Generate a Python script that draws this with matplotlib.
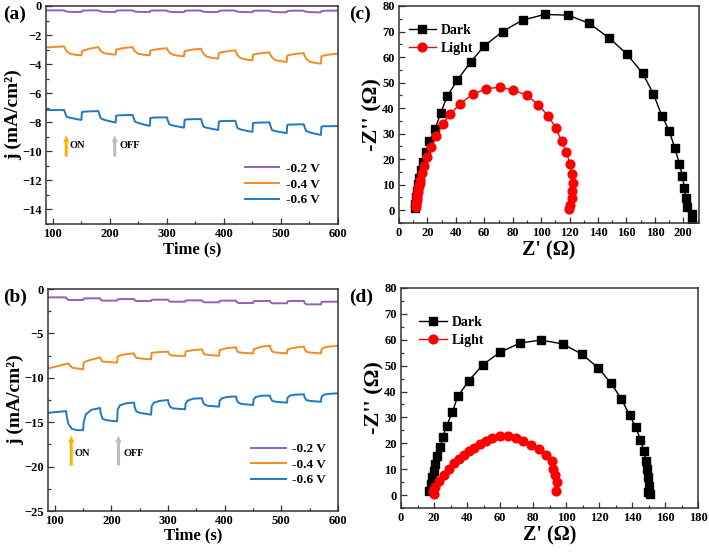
import matplotlib
matplotlib.use("Agg")
import matplotlib.pyplot as plt
from matplotlib.ticker import MultipleLocator

plt.rcParams['font.family'] = ['Liberation Serif', 'DejaVu Serif']
plt.rcParams['font.weight'] = 'bold'
plt.rcParams['axes.labelweight'] = 'bold'

# ---------------- panel (a): chopped current, sample 1 ----------------
t_a = [88,
       120, 121, 124, 130, 140, 150, 151, 155, 165,
       180, 181, 184, 190, 200, 210, 211, 215, 225,
       240, 241, 244, 250, 260, 270, 271, 275, 285,
       300, 301, 304, 310, 320, 330, 331, 335, 345,
       360, 361, 364, 370, 380, 390, 391, 395, 405,
       420, 421, 424, 430, 440, 450, 451, 455, 465,
       480, 481, 484, 490, 500, 510, 511, 515, 525,
       540, 541, 544, 550, 560, 570, 571, 575, 585,
       600]
a_02 = [-0.30,
        -0.30, -0.34, -0.38, -0.40, -0.41, -0.41, -0.33, -0.31, -0.30,
        -0.30, -0.34, -0.38, -0.40, -0.41, -0.41, -0.33, -0.31, -0.30,
        -0.30, -0.34, -0.38, -0.40, -0.41, -0.42, -0.33, -0.31, -0.31,
        -0.31, -0.35, -0.39, -0.41, -0.42, -0.42, -0.34, -0.32, -0.31,
        -0.31, -0.35, -0.39, -0.41, -0.42, -0.42, -0.34, -0.32, -0.31,
        -0.31, -0.35, -0.39, -0.41, -0.42, -0.43, -0.34, -0.32, -0.32,
        -0.32, -0.36, -0.40, -0.42, -0.43, -0.43, -0.35, -0.33, -0.32,
        -0.32, -0.36, -0.40, -0.42, -0.43, -0.44, -0.35, -0.33, -0.32,
        -0.32]
a_04 = [-2.85,
        -2.78, -2.90, -3.09, -3.28, -3.36, -3.40, -3.12, -3.05, -2.93,
        -2.83, -2.93, -3.09, -3.25, -3.31, -3.35, -3.01, -2.96, -2.89,
        -2.83, -2.94, -3.12, -3.29, -3.36, -3.40, -3.08, -3.03, -2.96,
        -2.90, -3.01, -3.18, -3.35, -3.42, -3.46, -3.12, -3.07, -3.00,
        -2.94, -3.08, -3.28, -3.48, -3.57, -3.62, -3.24, -3.19, -3.12,
        -3.05, -3.19, -3.40, -3.60, -3.69, -3.74, -3.35, -3.31, -3.25,
        -3.19, -3.32, -3.52, -3.72, -3.80, -3.85, -3.42, -3.37, -3.30,
        -3.24, -3.39, -3.61, -3.82, -3.92, -3.97, -3.46, -3.41, -3.34,
        -3.28]
a_06 = [-7.16,
        -7.16, -7.30, -7.61, -7.69, -7.77, -7.84, -7.30, -7.27, -7.25,
        -7.23, -7.38, -7.73, -7.83, -7.93, -8.02, -7.55, -7.52, -7.51,
        -7.50, -7.64, -7.95, -8.05, -8.16, -8.25, -7.71, -7.68, -7.67,
        -7.66, -7.80, -8.14, -8.22, -8.30, -8.37, -7.83, -7.80, -7.79,
        -7.78, -7.94, -8.30, -8.38, -8.46, -8.53, -7.95, -7.92, -7.91,
        -7.90, -8.05, -8.41, -8.50, -8.59, -8.66, -8.06, -8.03, -8.02,
        -8.01, -8.17, -8.53, -8.61, -8.68, -8.75, -8.19, -8.16, -8.15,
        -8.14, -8.28, -8.60, -8.69, -8.79, -8.87, -8.30, -8.27, -8.27,
        -8.26]

# ---------------- panel (b): chopped current, sample 2 ----------------
t_b = t_a
b_02 = [-0.94,
        -0.94, -1.10, -1.24, -1.24, -1.24, -1.24, -1.08, -1.05, -1.05,
        -1.05, -1.20, -1.31, -1.31, -1.31, -1.31, -1.16, -1.13, -1.13,
        -1.13, -1.26, -1.35, -1.35, -1.35, -1.35, -1.23, -1.20, -1.20,
        -1.20, -1.34, -1.43, -1.43, -1.43, -1.43, -1.31, -1.28, -1.28,
        -1.28, -1.40, -1.50, -1.50, -1.50, -1.50, -1.34, -1.31, -1.31,
        -1.31, -1.46, -1.58, -1.58, -1.58, -1.58, -1.38, -1.35, -1.35,
        -1.35, -1.50, -1.61, -1.61, -1.61, -1.61, -1.38, -1.35, -1.35,
        -1.35, -1.56, -1.73, -1.73, -1.73, -1.73, -1.46, -1.43, -1.43,
        -1.43]
b_04 = [-8.95,
        -8.45, -8.43, -8.40, -8.85, -8.95, -9.05, -8.30, -8.15, -7.95,
        -7.70, -7.90, -8.15, -8.20, -8.25, -8.30, -7.60, -7.50, -7.35,
        -7.25, -7.50, -7.75, -7.82, -7.88, -7.92, -7.20, -7.15, -7.10,
        -7.06, -7.25, -7.45, -7.50, -7.53, -7.55, -7.06, -6.98, -6.88,
        -6.80, -7.05, -7.35, -7.42, -7.47, -7.51, -6.90, -6.80, -6.65,
        -6.57, -6.85, -7.10, -7.18, -7.22, -7.25, -6.82, -6.70, -6.50,
        -6.38, -6.70, -7.05, -7.15, -7.20, -7.25, -6.82, -6.72, -6.60,
        -6.49, -6.75, -7.05, -7.15, -7.20, -7.25, -6.78, -6.60, -6.48,
        -6.40]
b_06 = [-13.95,
        -13.75, -14.30, -15.20, -15.75, -15.90, -15.90, -15.00, -14.10, -13.60,
        -13.40, -14.00, -14.60, -14.75, -14.85, -14.90, -13.60, -13.10, -12.88,
        -12.80, -13.30, -13.80, -13.95, -14.05, -14.15, -13.20, -12.80, -12.60,
        -12.50, -12.90, -13.30, -13.45, -13.50, -13.55, -12.90, -12.55, -12.35,
        -12.30, -12.65, -13.00, -13.15, -13.20, -13.25, -12.60, -12.30, -12.15,
        -12.10, -12.45, -12.80, -12.95, -13.00, -13.06, -12.45, -12.15, -12.02,
        -12.00, -12.30, -12.60, -12.70, -12.75, -12.80, -12.25, -12.00, -11.90,
        -11.86, -12.20, -12.50, -12.60, -12.65, -12.70, -12.15, -11.90, -11.80,
        -11.75]

# ---------------- panel (c): Nyquist, sample 1 ----------------
c_dark_x = [11.1, 11.3, 11.8, 12.5, 13.1, 14.0, 15.3, 16.9, 18.8, 21.4, 25.5, 29.2,
            34.1, 41.1, 50.3, 59.9, 72.8, 86.9, 102.6, 119.0, 133.8, 147.7, 160.1,
            171.4, 178.9, 184.8, 190.1, 193.9, 197.2, 199.3, 200.7, 201.8, 202.5,
            206.1, 206.3]
c_dark_y = [1.0, 2.5, 5.1, 7.7, 10.3, 12.7, 15.7, 19.0, 22.7, 27.1, 32.0, 37.9,
            44.9, 51.0, 58.0, 64.3, 70.0, 74.5, 76.7, 76.4, 73.2, 67.5, 61.3,
            53.6, 45.6, 37.1, 31.0, 24.5, 18.3, 13.3, 8.9, 4.6, 1.3,
            -1.3, -4.7]
c_light_x = [11.8, 12.0, 12.2, 12.5, 12.7, 13.0, 13.4, 13.7, 14.1, 14.6, 15.1, 16.2,
             17.9, 20.0, 22.8, 26.1, 30.6, 36.2, 43.2, 51.7, 61.5, 70.9, 80.3, 89.7,
             97.9, 104.9, 110.3, 114.3, 117.8, 120.2, 121.4, 122.1, 121.6, 121.5,
             120.5, 119.6]
c_light_y = [1.2, 2.0, 2.9, 3.9, 4.9, 6.0, 7.1, 8.3, 9.5, 10.8, 12.0, 14.7,
             17.5, 20.9, 24.7, 28.9, 33.6, 37.8, 41.8, 45.4, 47.6, 48.2, 47.1, 45.1,
             41.4, 36.9, 32.3, 27.1, 22.7, 18.3, 14.2, 10.5, 7.5, 4.9,
             2.0, 0.4]

# ---------------- panel (d): Nyquist, sample 2 ----------------
d_dark_x = [16.8, 18.0, 18.8, 19.9, 20.9, 22.1, 23.7, 25.3, 27.7, 31.2, 34.4, 41.1,
            49.7, 59.8, 72.0, 84.7, 97.9, 109.5, 119.6, 127.3, 133.6, 138.5, 142.3,
            145.1, 147.2, 148.4, 149.2, 149.6, 150.0, 149.6, 151.0]
d_dark_y = [1.4, 4.2, 6.8, 9.4, 12.0, 15.0, 18.4, 22.3, 26.8, 32.2, 38.1, 44.2,
            50.4, 55.1, 58.7, 59.9, 58.4, 54.5, 49.1, 43.2, 37.1, 30.9, 26.2,
            21.4, 17.0, 13.3, 10.1, 6.8, 3.6, 1.3, 0.6]
d_light_x = [19.2, 19.9, 20.9, 23.3, 25.9, 28.9, 32.0, 35.0, 38.1, 41.1, 44.2, 47.6,
             51.3, 55.3, 60.0, 64.9, 69.5, 74.2, 79.0, 83.7, 88.0, 91.4, 92.0, 93.1,
             94.5, 93.8]
d_light_y = [1.5, 0.4, 3.0, 5.6, 7.9, 10.1, 12.3, 14.0, 15.5, 16.9, 18.2, 19.7,
             21.0, 22.0, 22.7, 22.7, 21.9, 20.9, 19.4, 17.8, 15.5, 13.0, 10.1, 7.6,
             5.1, 1.5]

volt_labels = ['-0.2 V', '-0.4 V', '-0.6 V']
eis_labels = ['Dark', 'Light']
c_purple = '#8d62b8'
c_orange = '#f58a22'
c_blue = '#1f78c4'

W, H = 709, 555
fig = plt.figure(figsize=(W / 100, H / 100), dpi=100)


def ax_px(l, t, r, b):
    return fig.add_axes([l / W, 1 - b / H, (r - l) / W, (b - t) / H])


ax_a = ax_px(46, 6, 338, 224)
ax_b = ax_px(48, 289, 338, 511)
ax_c = ax_px(399, 6, 699, 223)
ax_d = ax_px(401, 288, 698, 508)

TICK_FS = 9


def style(ax):
    for s in ax.spines.values():
        s.set_linewidth(1.1)
        s.set_color('#333333')
    ax.tick_params(which='both', direction='in', top=False, right=False,
                   labelsize=TICK_FS, width=0.9, color='#333333', pad=3)
    ax.tick_params(which='major', length=4)
    ax.tick_params(which='minor', length=2.5)
    for lab in ax.get_xticklabels() + ax.get_yticklabels():
        lab.set_fontweight('bold')


ARROW = 'simple,head_length=0.5,head_width=0.45,tail_width=0.22'

# ---- (a)
for y, col, lab in zip([a_02, a_04, a_06], [c_purple, c_orange, c_blue], volt_labels):
    ax_a.plot(t_a, y, color=col, lw=1.4, label=lab)
ax_a.set_xlim(88, 600)
ax_a.set_ylim(-15, 0)
ax_a.xaxis.set_major_locator(MultipleLocator(100))
ax_a.xaxis.set_minor_locator(MultipleLocator(50))
ax_a.yaxis.set_major_locator(MultipleLocator(2))
ax_a.yaxis.set_minor_locator(MultipleLocator(1))
ax_a.set_xlabel('Time (s)', fontsize=12, fontweight='bold', labelpad=1)
ax_a.set_ylabel('j (mA/cm²)', fontsize=14, fontweight='bold', labelpad=0)
ax_a.legend(loc='upper left', bbox_to_anchor=(0.64, 0.335), frameon=False,
            prop={'family': 'Liberation Serif', 'weight': 'bold', 'size': 9.5},
            handlelength=2.6, labelspacing=0.25, handletextpad=0.5)
style(ax_a)
ax_a.annotate('', xy=(123.5, -8.7), xytext=(123.5, -10.55),
              arrowprops=dict(arrowstyle=ARROW, color='#ffb300', lw=0))
ax_a.annotate('', xy=(208.5, -8.7), xytext=(208.5, -10.55),
              arrowprops=dict(arrowstyle=ARROW, color='#bdbdbd', lw=0))
ax_a.text(130, -9.6, 'ON', fontsize=7.5, fontweight='bold', va='center')
ax_a.text(217, -9.6, 'OFF', fontsize=7.5, fontweight='bold', va='center')

# ---- (b)
for y, col, lab in zip([b_02, b_04, b_06], [c_purple, c_orange, c_blue], volt_labels):
    ax_b.plot(t_b, y, color=col, lw=1.4, label=lab)
ax_b.set_xlim(88, 600)
ax_b.set_ylim(-25, 0)
ax_b.xaxis.set_major_locator(MultipleLocator(100))
ax_b.xaxis.set_minor_locator(MultipleLocator(50))
ax_b.yaxis.set_major_locator(MultipleLocator(5))
ax_b.yaxis.set_minor_locator(MultipleLocator(2.5))
ax_b.set_xlabel('Time (s)', fontsize=12, fontweight='bold', labelpad=0)
ax_b.set_ylabel('j (mA/cm²)', fontsize=14, fontweight='bold', labelpad=0)
ax_b.legend(loc='upper left', bbox_to_anchor=(0.66, 0.36), frameon=False,
            prop={'family': 'Liberation Serif', 'weight': 'bold', 'size': 9.5},
            handlelength=2.6, labelspacing=0.25, handletextpad=0.5)
style(ax_b)
ax_b.annotate('', xy=(129, -16.2), xytext=(129, -20.2),
              arrowprops=dict(arrowstyle=ARROW, color='#ffb300', lw=0))
ax_b.annotate('', xy=(212.5, -16.2), xytext=(212.5, -20.2),
              arrowprops=dict(arrowstyle=ARROW, color='#bdbdbd', lw=0))
ax_b.text(135, -18.5, 'ON', fontsize=7.5, fontweight='bold', va='center')
ax_b.text(222, -18.5, 'OFF', fontsize=7.5, fontweight='bold', va='center')


def eis(ax, dx, dy, lx, ly, xlim, xmaj, xmin):
    ax.plot(dx, dy, color='black', marker='s', ms=5.6, lw=1.0, label=eis_labels[0])
    ax.plot(lx, ly, color='#ff0000', marker='o', ms=6.3, lw=1.0, label=eis_labels[1])
    ax.set_xlim(*xlim)
    ax.set_ylim(-5, 80)
    ax.xaxis.set_major_locator(MultipleLocator(xmaj))
    ax.xaxis.set_minor_locator(MultipleLocator(xmin))
    ax.yaxis.set_major_locator(MultipleLocator(10))
    ax.yaxis.set_minor_locator(MultipleLocator(5))
    ax.set_xlabel("Z' (Ω)", fontsize=14.5, fontweight='bold', labelpad=1)
    ax.set_ylabel("-Z'' (Ω)", fontsize=16, fontweight='bold', labelpad=0)
    style(ax)


eis(ax_c, c_dark_x, c_dark_y, c_light_x, c_light_y, (0, 211), 20, 10)
ax_c.legend(loc='upper left', bbox_to_anchor=(-0.01, 0.975), frameon=False,
            prop={'family': 'Liberation Serif', 'weight': 'bold', 'size': 10},
            handlelength=2.0, labelspacing=0.35, handletextpad=0.3)
eis(ax_d, d_dark_x, d_dark_y, d_light_x, d_light_y, (0, 180), 20, 10)
ax_d.legend(loc='upper left', bbox_to_anchor=(0.02, 0.93), frameon=False,
            prop={'family': 'Liberation Serif', 'weight': 'bold', 'size': 10},
            handlelength=2.0, labelspacing=0.35, handletextpad=0.3)

# panel letters
fig.text(3 / W, 1 - 14 / H, '(a)', fontsize=14, fontweight='bold', va='center')
fig.text(3 / W, 1 - 297 / H, '(b)', fontsize=14, fontweight='bold', va='center')
fig.text(349 / W, 1 - 14 / H, '(c)', fontsize=14, fontweight='bold', va='center')
fig.text(349 / W, 1 - 297 / H, '(d)', fontsize=14, fontweight='bold', va='center')

fig.savefig('out.png', dpi=100)
